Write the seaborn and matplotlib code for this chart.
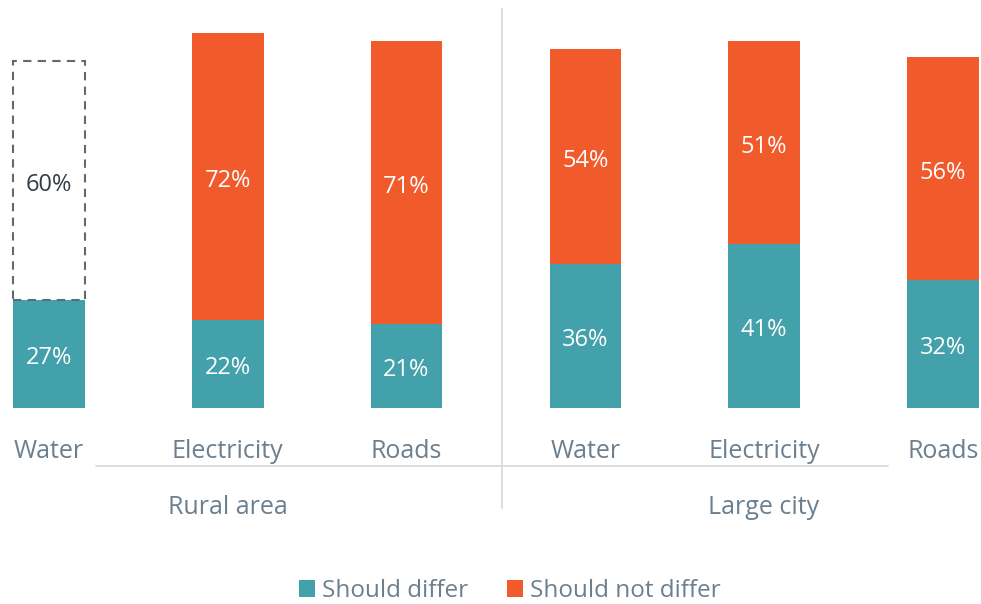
import matplotlib
matplotlib.use("Agg")
import matplotlib.pyplot as plt
import seaborn as sns
import pandas as pd
from matplotlib.patches import Patch

categories = ["Water", "Electricity", "Roads", "Water", "Electricity", "Roads"]
groups = ["Rural area", "Large city"]
should_differ = [27, 22, 21, 36, 41, 32]
should_not_differ = [60, 72, 71, 54, 51, 56]
series_names = ["Should differ", "Should not differ"]

TEAL = "#42A1AA"
ORANGE = "#F15A2B"
TEXT = "#6B7F8E"

sns.set_theme(style="white")
plt.rcParams["font.family"] = ["Open Sans", "DejaVu Sans"]

fig = plt.figure(figsize=(9.81, 6.04), dpi=100)
ax = fig.add_axes([0, 0.3245, 1, 0.6606])

df = pd.DataFrame({
    "pos": list(range(len(categories))),
    "differ": should_differ,
    "notdiffer": should_not_differ,
})

sns.barplot(data=df, x="pos", y="differ", color=TEAL, width=0.40,
            saturation=1, ax=ax, native_scale=True, linewidth=0)
n0 = len(ax.patches)
sns.barplot(data=df, x="pos", y="notdiffer", color=ORANGE, width=0.40,
            saturation=1, ax=ax, native_scale=True, linewidth=0,
            bottom=df["differ"].values)

top_patches = ax.patches[n0:]
bottom_patches = ax.patches[:n0]
# first top segment drawn as dashed outline
p = top_patches[0]
p.set_facecolor("white")
p.set_edgecolor("#5F6B73")
p.set_linestyle((0, (4, 3)))
p.set_linewidth(1.5)

ax.set_xlim(-0.274, 5.213)
ax.set_ylim(0, 100)
ax.axis("off")

VOFF = -1.0  # small downward shift of value labels (data units)
for bp, v in zip(bottom_patches, should_differ):
    ax.text(bp.get_x() + bp.get_width() / 2, bp.get_y() + bp.get_height() / 2 + VOFF,
            f"{v}%", ha="center", va="center", color="white", fontsize=17)
for i, (tp, v) in enumerate(zip(top_patches, should_not_differ)):
    ax.text(tp.get_x() + tp.get_width() / 2, tp.get_y() + tp.get_height() / 2 + VOFF,
            f"{v}%", ha="center", va="center",
            color="#333D45" if i == 0 else "white", fontsize=17)

# category labels
for i, c in enumerate(categories):
    fig.text((49 + i * 178.8) / 981, 1 - 451 / 604, c, ha="center", va="center",
             color=TEXT, fontsize=18)
# group labels
fig.text(228 / 981, 1 - 508 / 604, groups[0], ha="center", va="center", color=TEXT, fontsize=18)
fig.text(764 / 981, 1 - 508 / 604, groups[1], ha="center", va="center", color=TEXT, fontsize=18)

# separator lines
fig.add_artist(plt.Line2D([96 / 981, 888 / 981], [1 - 466 / 604, 1 - 466 / 604],
                          color="#DADADA", lw=1.3))
fig.add_artist(plt.Line2D([502 / 981, 502 / 981], [1 - 9 / 604, 1 - 508 / 604],
                          color="#DADADA", lw=1.3))

handles = [Patch(facecolor=TEAL, edgecolor="none"), Patch(facecolor=ORANGE, edgecolor="none")]
leg = fig.legend(handles, series_names, loc="center", bbox_to_anchor=(510 / 981, 1 - 591 / 604),
                 ncol=2, frameon=False, fontsize=17.5, handlelength=0.65, handleheight=0.65,
                 handletextpad=0.3, columnspacing=1.6)
for t in leg.get_texts():
    t.set_color(TEXT)

fig.savefig("out.png", dpi=100)
